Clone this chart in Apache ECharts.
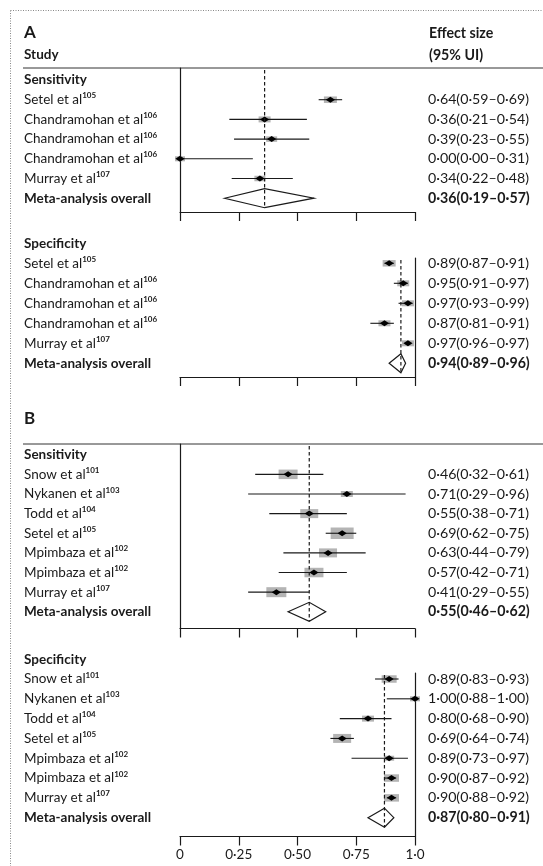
<!DOCTYPE html>
<html><head><meta charset="utf-8">
<script src="https://cdn.jsdelivr.net/npm/echarts@6/dist/echarts.min.js"></script>
<style>html,body{margin:0;padding:0;background:#fff}#c{width:543px;height:866px}</style>
</head><body><div id="c"></div>
<script>
// ---------- data ----------
const tickValues = [0, 0.25, 0.5, 0.75, 1];
const tickLabels = ['0', '0·25', '0·50', '0·75', '1·0'];

const aStudies = ['Setel et al', 'Chandramohan et al', 'Chandramohan et al', 'Chandramohan et al', 'Murray et al'];
const aRefs    = ['105', '106', '106', '106', '107'];
const aSensEst = [0.64, 0.36, 0.39, 0.00, 0.34];
const aSensLo  = [0.59, 0.21, 0.23, 0.00, 0.22];
const aSensHi  = [0.69, 0.54, 0.55, 0.31, 0.48];
const aSensPooled = [0.36, 0.19, 0.57];
const aSpecEst = [0.89, 0.95, 0.97, 0.87, 0.97];
const aSpecLo  = [0.87, 0.91, 0.93, 0.81, 0.96];
const aSpecHi  = [0.91, 0.97, 0.99, 0.91, 0.97];
const aSpecPooled = [0.94, 0.89, 0.96];

const bStudies = ['Snow et al', 'Nykanen et al', 'Todd et al', 'Setel et al', 'Mpimbaza et al', 'Mpimbaza et al', 'Murray et al'];
const bRefs    = ['101', '103', '104', '105', '102', '102', '107'];
const bSensEst = [0.46, 0.71, 0.55, 0.69, 0.63, 0.57, 0.41];
const bSensLo  = [0.32, 0.29, 0.38, 0.62, 0.44, 0.42, 0.29];
const bSensHi  = [0.61, 0.96, 0.71, 0.75, 0.79, 0.71, 0.55];
const bSensPooled = [0.55, 0.46, 0.62];
const bSpecEst = [0.89, 1.00, 0.80, 0.69, 0.89, 0.90, 0.90];
const bSpecLo  = [0.83, 0.88, 0.68, 0.64, 0.73, 0.87, 0.88];
const bSpecHi  = [0.93, 1.00, 0.90, 0.74, 0.97, 0.92, 0.92];
const bSpecPooled = [0.87, 0.80, 0.91];

// ---------- styles / layout ----------
const FONT = "Lato, 'Noto Sans', sans-serif";
const INK = '#1a1a1a';
const FS = 13.5;
const FS_R = 14.2;
const LABEL_X = 24;
const BOX = '#b4b4b4';
// study-weight box widths (px)
const aSensBoxW = [13, 12, 11, 10, 11];
const aSpecBoxW = [13, 12, 12, 12, 12];
const bSensBoxW = [19, 12, 18, 23, 18, 19, 20];
const bSpecBoxW = [15, 10, 12, 18, 10, 15, 15];

const sections = [
  { header: 'Sensitivity', studies: aStudies, refs: aRefs, est: aSensEst, lo: aSensLo, hi: aSensHi, pooled: aSensPooled, boxW: aSensBoxW,
    top: 68, height: 144, yMin: -0.609, yMax: 6.70, ref: 'left' },
  { header: 'Specificity', studies: aStudies, refs: aRefs, est: aSpecEst, lo: aSpecLo, hi: aSpecHi, pooled: aSpecPooled, boxW: aSpecBoxW,
    top: 258, height: 119, yMin: 0.735, yMax: 6.685, ref: 'right' },
  { header: 'Sensitivity', studies: bStudies, refs: bRefs, est: bSensEst, lo: bSensLo, hi: bSensHi, pooled: bSensPooled, boxW: bSensBoxW,
    top: 444, height: 184.5, yMin: -0.545, yMax: 8.85, ref: 'left' },
  { header: 'Specificity', studies: bStudies, refs: bRefs, est: bSpecEst, lo: bSpecLo, hi: bSpecHi, pooled: bSpecPooled, boxW: bSpecBoxW,
    top: 673, height: 163.5, yMin: 0.697, yMax: 8.95, ref: 'right' }
];

const fmt = v => v.toFixed(2).replace('.', '·');
const ciText = (e, l, h) => fmt(e) + '(' + fmt(l) + '–' + fmt(h) + ')';

const richStyles = {
  n: { fontFamily: FONT, fontSize: FS, fill: INK, lineHeight: 16 },
  s: { fontFamily: FONT, fontSize: 8, fill: INK, fontWeight: 'bold', verticalAlign: 'top', lineHeight: 9 }
};

const grids = [], xAxes = [], yAxes = [], series = [];

sections.forEach((sec, k) => {
  const last = k === sections.length - 1;
  grids.push({ left: 180, width: 235, top: sec.top, height: sec.height });
  xAxes.push({
    type: 'value', gridIndex: k, min: 0, max: 1, interval: 0.25,
    axisLine: { show: true, onZero: false, lineStyle: { color: INK, width: 1.2 } },
    axisTick: { show: true, inside: false, length: 9, lineStyle: { color: INK, width: 1.2 } },
    splitLine: { show: false },
    axisLabel: {
      show: last, margin: 11, color: INK, fontFamily: FONT, fontSize: FS,
      formatter: v => tickLabels[tickValues.indexOf(v)]
    }
  });
  yAxes.push({
    type: 'value', gridIndex: k, inverse: true, min: sec.yMin, max: sec.yMax,
    position: sec.ref,
    axisLine: { show: true, onZero: false, lineStyle: { color: INK, width: 1.2 } },
    axisTick: { show: false }, axisLabel: { show: false }, splitLine: { show: false }
  });

  // rows: header (0), studies (1..n), pooled (n+1)
  const n = sec.studies.length;
  const rows = [];
  rows.push({ kind: 0, row: 0 });
  for (let i = 0; i < n; i++) rows.push({ kind: 1, row: i + 1, i });
  rows.push({ kind: 2, row: n + 1 });

  const data = rows.map(r => {
    if (r.kind === 0) return [0, r.row, 0, 0];
    if (r.kind === 1) return [sec.est[r.i], r.row, sec.lo[r.i], sec.hi[r.i]];
    return [sec.pooled[0], r.row, sec.pooled[1], sec.pooled[2]];
  });

  series.push({
    type: 'custom', xAxisIndex: k, yAxisIndex: k, clip: false, silent: true,
    encode: { x: [0, 2, 3], y: 1 },
    data,
    renderItem: (params, api) => {
      const r = rows[params.dataIndex];
      const cs = params.coordSys;
      const est = api.value(0), lo = api.value(2), hi = api.value(3), row = api.value(1);
      const c = api.coord([est, row]);
      const y = c[1];
      const kids = [];
      const rightX = cs.x + cs.width + 13;
      if (r.kind === 0) {
        kids.push({ type: 'text', x: LABEL_X, y, style: { text: sec.header, fontFamily: FONT, fontSize: FS, fontWeight: 'bold', fill: INK, verticalAlign: 'middle', align: 'left' } });
      } else if (r.kind === 1) {
        kids.push({ type: 'text', x: LABEL_X, y, style: {
          text: '{n|' + sec.studies[r.i] + '}{s|' + sec.refs[r.i] + '}', rich: richStyles,
          verticalAlign: 'middle', align: 'left' } });
        const pl = api.coord([lo, row]), ph = api.coord([hi, row]);
        const w = sec.boxW[r.i], h = w * 0.5;
        kids.push({ type: 'rect', shape: { x: c[0] - w / 2, y: y - h / 2, width: w, height: h }, style: { fill: BOX } });
        kids.push({ type: 'line', shape: { x1: pl[0], y1: y, x2: ph[0], y2: y }, style: { stroke: INK, lineWidth: 1.1 } });
        kids.push({ type: 'polygon', shape: { points: [[c[0] - 4.6, y], [c[0], y - 3], [c[0] + 4.6, y], [c[0], y + 3]] }, style: { fill: '#000' } });
        kids.push({ type: 'text', x: rightX, y, style: { text: ciText(est, lo, hi), fontFamily: FONT, fontSize: FS_R, fill: INK, verticalAlign: 'middle', align: 'left' } });
      } else {
        kids.push({ type: 'text', x: LABEL_X, y, style: { text: 'Meta-analysis overall', fontFamily: FONT, fontSize: FS, fontWeight: 'bold', fill: INK, verticalAlign: 'middle', align: 'left' } });
        const pl = api.coord([lo, row]), ph = api.coord([hi, row]);
        const dh = 9.5;
        kids.push({ type: 'polygon', shape: { points: [[pl[0], y], [c[0], y - dh], [ph[0], y], [c[0], y + dh]] }, style: { fill: 'none', stroke: INK, lineWidth: 1.2 } });
        // dashed reference line at pooled estimate
        kids.push({ type: 'line', shape: { x1: c[0], y1: cs.y + 2, x2: c[0], y2: y + dh }, style: { stroke: INK, lineWidth: 1.2, lineDash: [3.5, 2.5] } });
        kids.push({ type: 'text', x: rightX, y, style: { text: ciText(est, lo, hi), fontFamily: FONT, fontSize: FS_R, fontWeight: 'bold', fill: INK, verticalAlign: 'middle', align: 'left' } });
      }
      return { type: 'group', children: kids };
    }
  });
});

const headText = (x, y, text, size, weight) => ({
  type: 'text', x, y, silent: true,
  style: { text, fontFamily: FONT, fontSize: size, fontWeight: weight, fill: INK, verticalAlign: 'middle', align: 'left' }
});
const hLine = (x1, y1, x2, y2, dash, color) => ({
  type: 'line', silent: true, shape: { x1, y1, x2, y2 },
  style: { stroke: color || '#333', lineWidth: 1, lineDash: dash || null }
});

const graphic = [
  hLine(10.5, 10.5, 543, 10.5, [1, 1.5], '#888'),
  hLine(10.5, 10.5, 10.5, 866, [1, 1.5], '#888'),
  headText(24, 33, 'A', 17, 'bold'),
  headText(24, 55, 'Study', FS, 'bold'),
  headText(429, 33, 'Effect size', FS_R, 'bold'),
  headText(429, 55, '(95% UI)', FS_R, 'bold'),
  hLine(23, 68, 543, 68, null, '#333'),
  headText(24, 419, 'B', 17, 'bold'),
  hLine(23, 444, 543, 444, null, '#333')
];

const chart = echarts.init(document.getElementById('c'), null, { renderer: 'canvas' });
chart.setOption({
  animation: false,
  backgroundColor: '#fff',
  grid: grids, xAxis: xAxes, yAxis: yAxes, series, graphic
});
</script></body></html>
